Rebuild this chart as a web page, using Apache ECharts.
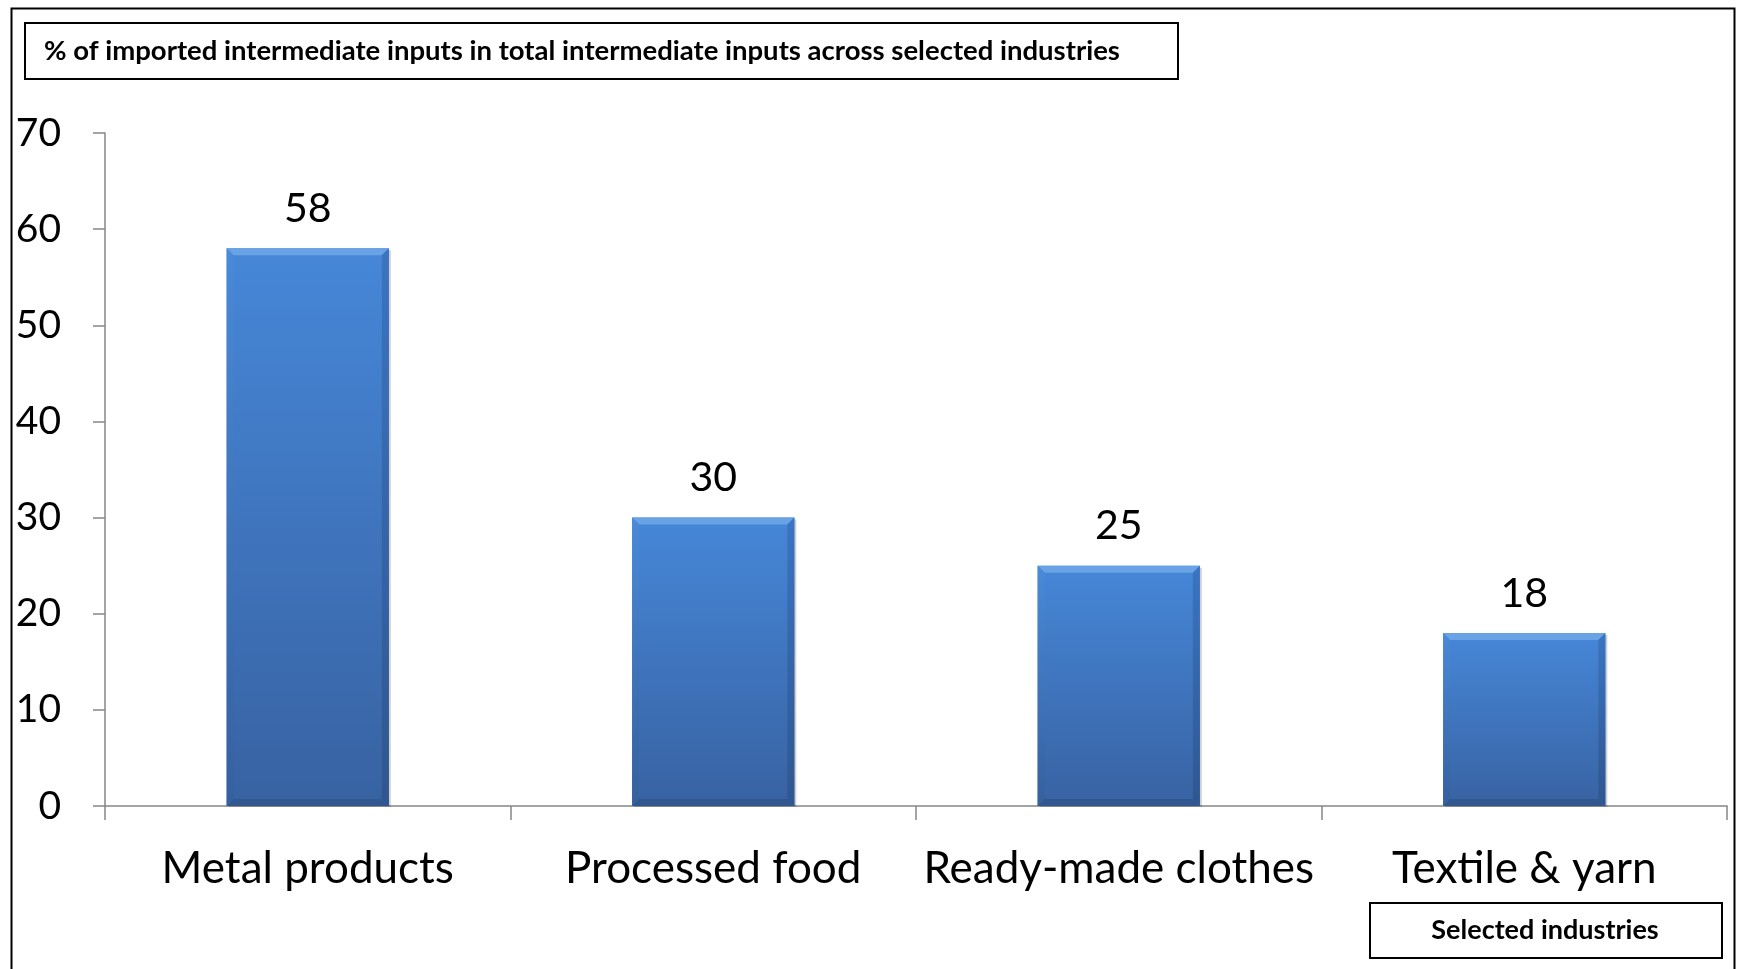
<!DOCTYPE html>
<html>
<head>
<meta charset="utf-8">
<script src="https://cdn.jsdelivr.net/npm/echarts@6/dist/echarts.min.js"></script>
<style>
  html, body { margin: 0; padding: 0; background: #fff; }
  #chart { width: 1741px; height: 969px; }
</style>
</head>
<body>
<div id="chart"></div>
<script>
// Share of imported intermediate inputs by industry (%)
const categories = ['Metal products', 'Processed food', 'Ready-made clothes', 'Textile & yarn'];
const values = [58, 30, 25, 18];
const yTicks = [0, 10, 20, 30, 40, 50, 60, 70];
const titleText = '% of imported intermediate inputs in total intermediate inputs across selected industries';
const axisTitleText = 'Selected industries';

const FONT = 'Lato, "Open Sans", sans-serif';
const chart = echarts.init(document.getElementById('chart'), null, { renderer: 'canvas' });

// Bevelled bar drawn in data coordinates
function renderBar(params, api) {
  const idx = api.value(0);
  const v = api.value(1);
  const top = api.coord([idx, v]);
  const base = api.coord([idx, 0]);
  const bw = api.size([1, 0])[0] * 0.4;
  const x0 = top[0] - bw / 2, x1 = top[0] + bw / 2;
  const y0 = top[1], y1 = base[1];
  const b = 7;
  return {
    type: 'group',
    children: [
      { type: 'rect', shape: { x: x0 + 2, y: y0 + 2, width: bw, height: y1 - y0 - 1 },
        style: { fill: 'rgba(0,0,0,0.18)' } },
      { type: 'rect', shape: { x: x0, y: y0, width: bw, height: y1 - y0 },
        style: { fill: new echarts.graphic.LinearGradient(0, 0, 0, 1, [
          { offset: 0, color: '#4687d8' }, { offset: 1, color: '#3862a2' }]) } },
      { type: 'polygon', shape: { points: [[x0, y0], [x1, y0], [x1 - b, y0 + b], [x0 + b, y0 + b]] },
        style: { fill: '#6aa2e6' } },
      { type: 'polygon', shape: { points: [[x0, y0], [x0 + b, y0 + b], [x0 + b, y1 - b], [x0, y1]] },
        style: { fill: new echarts.graphic.LinearGradient(0, 0, 0, 1, [
          { offset: 0, color: '#4a8ad8' }, { offset: 1, color: '#35609e' }]) } },
      { type: 'polygon', shape: { points: [[x1, y0], [x1 - b, y0 + b], [x1 - b, y1 - b], [x1, y1]] },
        style: { fill: new echarts.graphic.LinearGradient(0, 0, 0, 1, [
          { offset: 0, color: '#3b74c2' }, { offset: 1, color: '#2f5690' }]) } },
      { type: 'polygon', shape: { points: [[x0, y1], [x1, y1], [x1 - b, y1 - b], [x0 + b, y1 - b]] },
        style: { fill: '#30588f' } },
      { type: 'text', style: { text: String(v), x: top[0], y: y0 - 19,
          align: 'center', verticalAlign: 'bottom', fill: '#000', font: '41px ' + FONT } }
    ]
  };
}

chart.setOption({
  animation: false,
  backgroundColor: '#fff',
  grid: { left: 105, right: 14, top: 133, bottom: 163, containLabel: false },
  xAxis: {
    type: 'category',
    data: categories,
    axisLine: { lineStyle: { color: '#868686', width: 1.5 } },
    axisTick: { show: true, interval: 0, length: 14, lineStyle: { color: '#868686', width: 1.5 } },
    axisLabel: { interval: 0, color: '#000', fontSize: 44, fontFamily: FONT, margin: 38, lineHeight: 50 },
    splitLine: { show: false }
  },
  yAxis: {
    type: 'value',
    min: yTicks[0],
    max: yTicks[yTicks.length - 1],
    interval: yTicks[1] - yTicks[0],
    axisLine: { show: true, lineStyle: { color: '#868686', width: 1.5 } },
    axisTick: { show: true, length: 12, lineStyle: { color: '#868686', width: 1.5 } },
    axisLabel: { color: '#000', fontSize: 39, fontFamily: FONT, margin: 44 },
    splitLine: { show: false }
  },
  series: [{
    type: 'custom',
    renderItem: renderBar,
    data: values.map((v, i) => [i, v]),
    encode: { x: 0, y: 1 },
    z: 3
  }],
  graphic: [
    { type: 'rect', left: 9, top: 6, shape: { width: 1723, height: 1000 },
      style: { fill: null, stroke: '#000', lineWidth: 2 }, silent: true },
    { type: 'rect', left: 24, top: 22, shape: { width: 1153, height: 56 },
      style: { fill: '#fff', stroke: '#000', lineWidth: 2 } },
    { type: 'text', x: 44, y: 51,
      style: { text: titleText, fill: '#000', font: 'bold 27.5px ' + FONT, verticalAlign: 'middle' } },
    { type: 'rect', left: 1369, top: 902, shape: { width: 352, height: 55 },
      style: { fill: '#fff', stroke: '#000', lineWidth: 2 } },
    { type: 'text', x: 1545, y: 930,
      style: { text: axisTitleText, fill: '#000', font: 'bold 27px ' + FONT,
        align: 'center', verticalAlign: 'middle' } }
  ]
});
</script>
</body>
</html>
